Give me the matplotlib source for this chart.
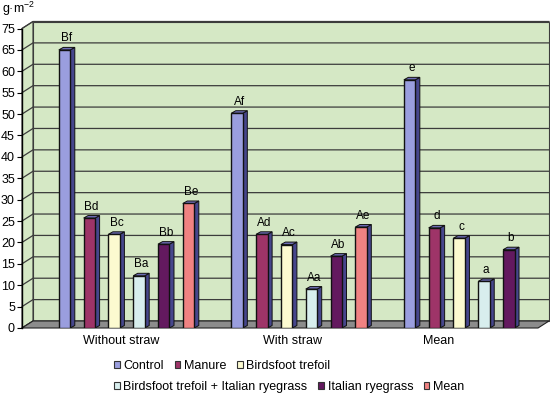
import matplotlib
matplotlib.use('Agg')
import matplotlib.pyplot as plt
from matplotlib.patches import Polygon, Patch

plt.rcParams['font.family'] = ['Liberation Sans', 'DejaVu Sans']
plt.rcParams['mathtext.fontset'] = 'custom'
plt.rcParams['mathtext.rm'] = 'Liberation Sans'
plt.rcParams['mathtext.default'] = 'regular'

groups = ['Without straw', 'With straw', 'Mean']
series = ['Control', 'Manure', 'Birdsfoot trefoil',
          'Birdsfoot trefoil + Italian ryegrass', 'Italian ryegrass', 'Mean']

control = [65.0, 50.2, 58.0]
manure = [25.7, 21.9, 23.4]
birdsfoot = [21.9, 19.5, 21.0]
birdsfoot_rye = [12.2, 9.1, 10.9]
ryegrass = [19.6, 16.8, 18.3]
mean = [29.1, 23.6, None]

control_lab = ['Bf', 'Af', 'e']
manure_lab = ['Bd', 'Ad', 'd']
birdsfoot_lab = ['Bc', 'Ac', 'c']
birdsfoot_rye_lab = ['Ba', 'Aa', 'a']
ryegrass_lab = ['Bb', 'Ab', 'b']
mean_lab = ['Be', 'Ae', '']

yticks = list(range(0, 75, 5))
ytick_labels = ['0', '5', '10', '15', '20', '25', '30', '35', '40',
                '45', '50', '55', '60', '65', '75']

values = [control, manure, birdsfoot, birdsfoot_rye, ryegrass, mean]
labels = [control_lab, manure_lab, birdsfoot_lab, birdsfoot_rye_lab, ryegrass_lab, mean_lab]
colors = ['#9a9ede', '#9e3468', '#fcfad0', '#d8eeee', '#63195f', '#f08282']

fig = plt.figure(figsize=(5.5, 3.94), dpi=100)
W, H = 550, 394
ax = fig.add_axes([22 / W, 66 / H, 516 / W, 299.5 / H])
xmin, xmax = -0.606, 2.385
ymax = 70
ax.set_xlim(xmin, xmax)
ax.set_ylim(0, ymax)

# pixel -> data conversion for the 3d offsets
sx = 516 / (xmax - xmin)
sy = 299.5 / ymax
WX, WY = 11 / sx, 7 / sy      # wall depth
BX, BY = 4.5 / sx, 2.5 / sy   # bar depth

wall = '#d5e8c5'
grid = '#3c3c3c'

# left wall and back wall
ax.add_patch(Polygon([(xmin, 0), (xmin + WX, WY), (xmin + WX, ymax + WY), (xmin, ymax)],
                     closed=True, fc=wall, ec=grid, lw=0.8, clip_on=False, zorder=0))
ax.add_patch(Polygon([(xmin + WX, WY), (xmax + WX, WY), (xmax + WX, ymax + WY), (xmin + WX, ymax + WY)],
                     closed=True, fc=wall, ec=grid, lw=0.8, clip_on=False, zorder=0))
for t in yticks:
    ax.plot([xmin, xmin + WX, xmax + WX], [t, t + WY, t + WY], color=grid, lw=0.9,
            clip_on=False, zorder=1)

# floor
ax.add_patch(Polygon([(xmin, 0), (xmax, 0), (xmax + WX, WY), (xmin + WX, WY)],
                     closed=True, fc='#8c8c8c', ec='#222222', lw=0.8, clip_on=False, zorder=1.5))

slot = 24.8 / sx
bw = 11.5 / sx
side_c = '#46468c'
top_c = '#6c6cb4'
for k, (vals, labs, col) in enumerate(zip(values, labels, colors)):
    for g, (v, lab) in enumerate(zip(vals, labs)):
        if v is None:
            continue
        xc = g + (k - 2.5) * slot
        xl, xr = xc - bw / 2, xc + bw / 2
        ax.add_patch(Polygon([(xr, 0), (xr + BX, BY), (xr + BX, v + BY), (xr, v)],
                             closed=True, fc=side_c, ec='#111111', lw=0.7, zorder=3))
        ax.add_patch(Polygon([(xl, v), (xr, v), (xr + BX, v + BY), (xl + BX, v + BY)],
                             closed=True, fc=top_c, ec='#111111', lw=0.7, zorder=3))
        ax.add_patch(Polygon([(xl, 0), (xr, 0), (xr, v), (xl, v)],
                             closed=True, fc=col, ec='#111111', lw=1.0, zorder=4))
        ax.text(xc + BX / 2, v + BY + 0.7, lab, ha='center', va='bottom',
                fontsize=8.5, zorder=5)

for s in ['top', 'right', 'bottom']:
    ax.spines[s].set_visible(False)
ax.spines['left'].set_linewidth(1.0)
ax.spines['left'].set_zorder(2)
ax.set_yticks(yticks)
ax.set_yticklabels(ytick_labels)
ax.tick_params(axis='y', length=3.6, width=0.8, pad=1.5, labelsize=9)

label_x = [-0.03, 0.96, 1.81]
ax.set_xticks(label_x)
ax.set_xticklabels(groups)
ax.tick_params(axis='x', length=0, pad=5, labelsize=9)
ax.set_facecolor('none')

fig.text(2 / W, 1 - 9 / H, 'g·m$^{-2}$', fontsize=9, va='center', ha='left')

handles = [Patch(fc=c, ec='#333333', lw=0.8) for c in colors]
leg_kw = dict(frameon=False, fontsize=9, handlelength=0.45, handleheight=0.45,
              handletextpad=0.3, columnspacing=0.85, borderpad=0, borderaxespad=0,
              loc='center left', ncol=3)
fig.legend(handles[:3], series[:3], bbox_to_anchor=(114 / W, 1 - 366 / H), **leg_kw)
fig.legend(handles[3:], series[3:], bbox_to_anchor=(114 / W, 1 - 387 / H), **leg_kw)

fig.savefig('out.png', dpi=100)
